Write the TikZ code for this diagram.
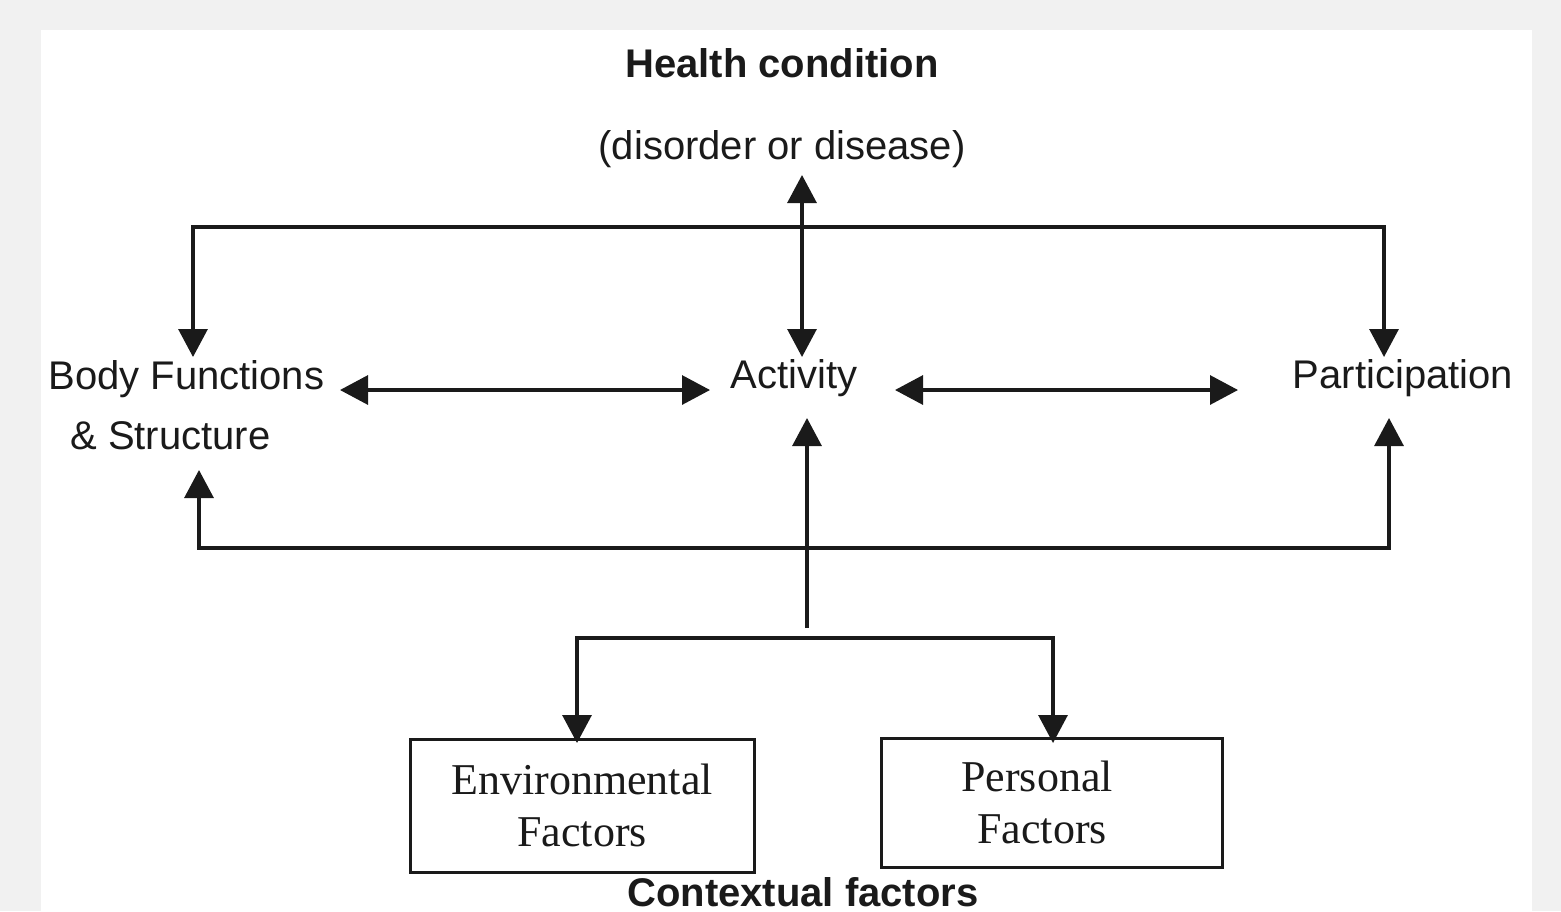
\documentclass[tikz,border=0pt]{standalone}
\usepackage{fontspec}
\setmainfont{Liberation Sans}
\newfontfamily\serifF{Liberation Serif}
\usetikzlibrary{arrows.meta}
\definecolor{pagegray}{HTML}{F1F1F1}
\definecolor{ink}{HTML}{1A1A1A}
\begin{document}
\begin{tikzpicture}[x=0.5pt,y=-0.5pt,
  lbl/.style={font=\fontsize{20}{30}\selectfont, text=ink, inner sep=0pt},
  hd/.style={font=\fontsize{20}{30}\selectfont\bfseries, text=ink, inner sep=0pt},
  factorbox/.style={draw=ink, line width=1.5pt, font=\serifF\fontsize{22}{26}\selectfont, text=ink, align=center, inner sep=0pt},
  conn/.style={draw=ink, line width=1.6pt},
  arr/.style={conn, -{Triangle[length=14pt,width=14.5pt]}},
  darr/.style={conn, {Triangle[length=14pt,width=14.5pt]}-{Triangle[length=14pt,width=14.5pt]}}]
\fill[pagegray] (0,0) rectangle (1561,911);
\fill[white] (41,30) rectangle (1532,911);
\useasboundingbox (0,0) rectangle (1561,911);

% text nodes
\node[hd] (hc) at (782,63) {Health condition};
\node[lbl] (dd) at (782,149) {(disorder or disease)};
\node[lbl, align=left, anchor=west] (bf) at (48,405) {Body Functions\\\hspace*{11pt}\& Structure};
\node[lbl] (act) at (794,378) {Activity};
\node[lbl] (par) at (1403,378) {Participation};
\node[factorbox, minimum width=172pt, minimum height=66.5pt] (env) at (582,805.5) {Environmental\\Factors};
\node[factorbox, minimum width=170.5pt, minimum height=64.5pt] (per) at (1051.5,802.5) {Personal\kern14.5pt\\Factors\kern9.5pt};
\node[hd] (ctx) at (803,892) {Contextual factors};

% connector end points
\coordinate (hcTip) at (802,175);
\coordinate (actTop) at (802,357);
\coordinate (bfTop) at (193,357);
\coordinate (topL) at (193,227);
\coordinate (topR) at (1384,227);
\coordinate (parTop) at (1384,357);
\coordinate (bfR) at (340,390);
\coordinate (actL) at (710,390);
\coordinate (actR) at (895,390);
\coordinate (parL) at (1238,390);
\coordinate (bfBot) at (199,470);
\coordinate (botL) at (199,548);
\coordinate (botR) at (1389,548);
\coordinate (parBot) at (1389,418);
\coordinate (stem) at (807,628);
\coordinate (actBot) at (807,418);
\coordinate (envTop) at (577,743);
\coordinate (ctxL) at (577,638);
\coordinate (ctxR) at (1053,638);
\coordinate (perTop) at (1053,743);

% connectors
\draw[darr] (hcTip) -- (actTop);
\draw[darr] (bfTop) -- (topL) -- (topR) -- (parTop);
\draw[darr] (bfR) -- (actL);
\draw[darr] (actR) -- (parL);
\draw[darr] (bfBot) -- (botL) -- (botR) -- (parBot);
\draw[arr] (stem) -- (actBot);
\draw[darr] (envTop) -- (ctxL) -- (ctxR) -- (perTop);
\end{tikzpicture}
\end{document}
